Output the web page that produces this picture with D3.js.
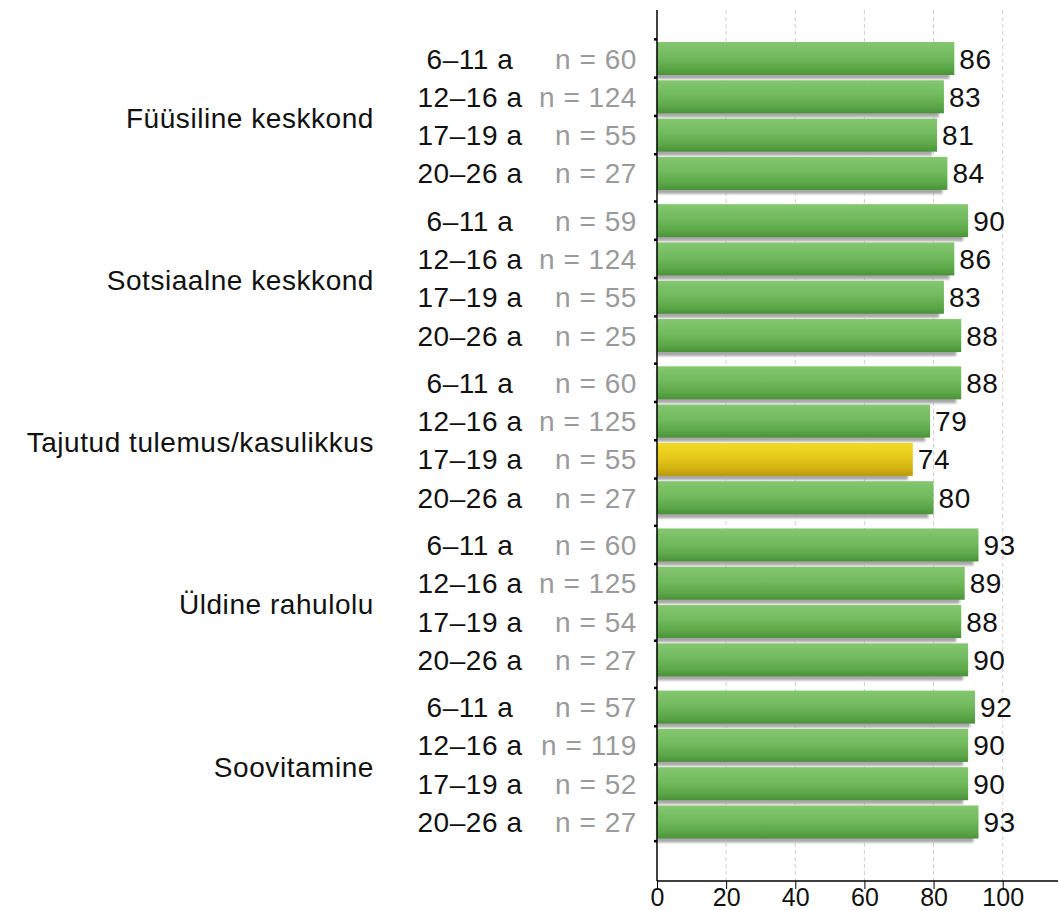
<!DOCTYPE html>
<html>
<head>
<meta charset="utf-8">
<script src="https://cdn.jsdelivr.net/npm/d3@7"></script>
<style>
  html, body { margin: 0; padding: 0; background: #fff; }
  svg { display: block; }
  text { font-family: "Liberation Sans", Arial, sans-serif; }
</style>
</head>
<body>
<script>
const groups = ["Füüsiline keskkond", "Sotsiaalne keskkond", "Tajutud tulemus/kasulikkus", "Üldine rahulolu", "Soovitamine"];
const ages = ["6–11 a", "12–16 a", "17–19 a", "20–26 a"];
const values = [
  [86, 83, 81, 84],
  [90, 86, 83, 88],
  [88, 79, 74, 80],
  [93, 89, 88, 90],
  [92, 90, 90, 93]
];
const counts = [
  [60, 124, 55, 27],
  [59, 124, 55, 25],
  [60, 125, 55, 27],
  [60, 125, 54, 27],
  [57, 119, 52, 27]
];
const xTicks = [0, 20, 40, 60, 80, 100];
const highlightBelow = 75;

const W = 1059, H = 910;
const x0 = 657, x100 = 1002.7, axisTop = 10, axisY = 881, axisRight = 1058;
const FS = 28, LS = 0.55;

const svg = d3.select("body").append("svg").attr("width", W).attr("height", H);
const defs = svg.append("defs");

function grad(id, stops) {
  const g = defs.append("linearGradient").attr("id", id)
    .attr("x1", 0).attr("y1", 0).attr("x2", 0).attr("y2", 1);
  stops.forEach(s => g.append("stop").attr("offset", s[0]).attr("stop-color", s[1]));
}
grad("gGreen", [[0, "#84c770"], [0.45, "#71ba5d"], [0.8, "#5ba647"], [1, "#4a9139"]]);
grad("gYellow", [[0, "#f1da24"], [0.45, "#e6c81a"], [0.8, "#d1b010"], [1, "#b8990c"]]);
const blur = defs.append("filter").attr("id", "blur").attr("x", "-5%").attr("y", "-30%").attr("width", "110%").attr("height", "160%");
blur.append("feGaussianBlur").attr("stdDeviation", 1.2);

const x = d3.scaleLinear().domain([0, 100]).range([x0, x100]);
const yGroup = d3.scaleBand().domain(groups).range([39.35, 841.15]).paddingInner(0.0552).paddingOuter(0);
const yRow = d3.scaleBand().domain(ages).range([0, yGroup.bandwidth()]).paddingInner(0.138).paddingOuter(0.069);

// grid
svg.append("g").selectAll("line").data(xTicks.filter(t => t > 0)).join("line")
  .attr("x1", d => x(d)).attr("x2", d => x(d))
  .attr("y1", axisTop).attr("y2", axisY)
  .attr("stroke", "#cfcfcf").attr("stroke-width", 1).attr("stroke-dasharray", "4,3");

const rows = [];
groups.forEach((g, gi) => ages.forEach((a, ai) => rows.push({
  group: g, age: a, value: values[gi][ai], n: counts[gi][ai],
  y: yGroup(g) + yRow(a)
})));
const bh = yRow.bandwidth();

// shadows
svg.append("g").selectAll("rect").data(rows).join("rect")
  .attr("x", x(0)).attr("y", d => d.y + 4)
  .attr("width", d => x(d.value) - x(0) - 5).attr("height", bh)
  .attr("fill", "#a8a8a8").attr("filter", "url(#blur)");

// bars
svg.append("g").selectAll("rect").data(rows).join("rect")
  .attr("x", x(0)).attr("y", d => d.y)
  .attr("width", d => x(d.value) - x(0)).attr("height", bh)
  .attr("fill", d => d.value < highlightBelow ? "url(#gYellow)" : "url(#gGreen)");

function styleText(sel) {
  return sel.attr("font-size", FS).attr("letter-spacing", LS);
}

// value labels
styleText(svg.append("g").selectAll("text").data(rows).join("text"))
  .attr("x", d => x(d.value) + 5).attr("y", d => d.y + bh / 2)
  .attr("dy", "0.36em").attr("fill", "#111")
  .text(d => d.value);

// age labels
styleText(svg.append("g").selectAll("text").data(rows).join("text"))
  .attr("x", 470).attr("y", d => d.y + bh / 2)
  .attr("dy", "0.36em").attr("text-anchor", "middle").attr("fill", "#111")
  .text(d => d.age);

// n labels
styleText(svg.append("g").selectAll("text").data(rows).join("text"))
  .attr("x", 637).attr("y", d => d.y + bh / 2)
  .attr("dy", "0.36em").attr("text-anchor", "end").attr("fill", "#9a9a9a")
  .text(d => "n = " + d.n);

// group labels
styleText(svg.append("g").selectAll("text").data(groups).join("text"))
  .attr("x", 374).attr("y", d => yGroup(d) + yGroup.bandwidth() / 2 + 2)
  .attr("dy", "0.36em").attr("text-anchor", "end").attr("fill", "#111")
  .text(d => d);

// y axis line + ticks
svg.append("line").attr("x1", x0).attr("x2", x0).attr("y1", axisTop).attr("y2", axisY)
  .attr("stroke", "#000").attr("stroke-width", 1.5);
const tickYs = rows.map(r => r.y - (yRow.step() - bh) / 2);
tickYs.push(rows[rows.length - 1].y + bh + (yRow.step() - bh) / 2);
svg.append("g").selectAll("line").data(tickYs).join("line")
  .attr("x1", x0 - 3).attr("x2", x0).attr("y1", d => d).attr("y2", d => d)
  .attr("stroke", "#000").attr("stroke-width", 2.5);

// x axis
const xAxis = d3.axisBottom(x).tickValues(xTicks).tickSize(8).tickPadding(-1).tickFormat(d3.format("d"));
const gx = svg.append("g").attr("transform", `translate(0,${axisY})`).call(xAxis);
gx.select(".domain").remove();
gx.selectAll(".tick line").attr("stroke", "#000");
gx.selectAll(".tick text").attr("font-size", 25).attr("fill", "#111")
  .attr("font-family", "'Liberation Sans', Arial, sans-serif");
svg.append("line").attr("x1", x0).attr("x2", axisRight).attr("y1", axisY).attr("y2", axisY)
  .attr("stroke", "#000").attr("stroke-width", 1.5);
</script>
</body>
</html>
